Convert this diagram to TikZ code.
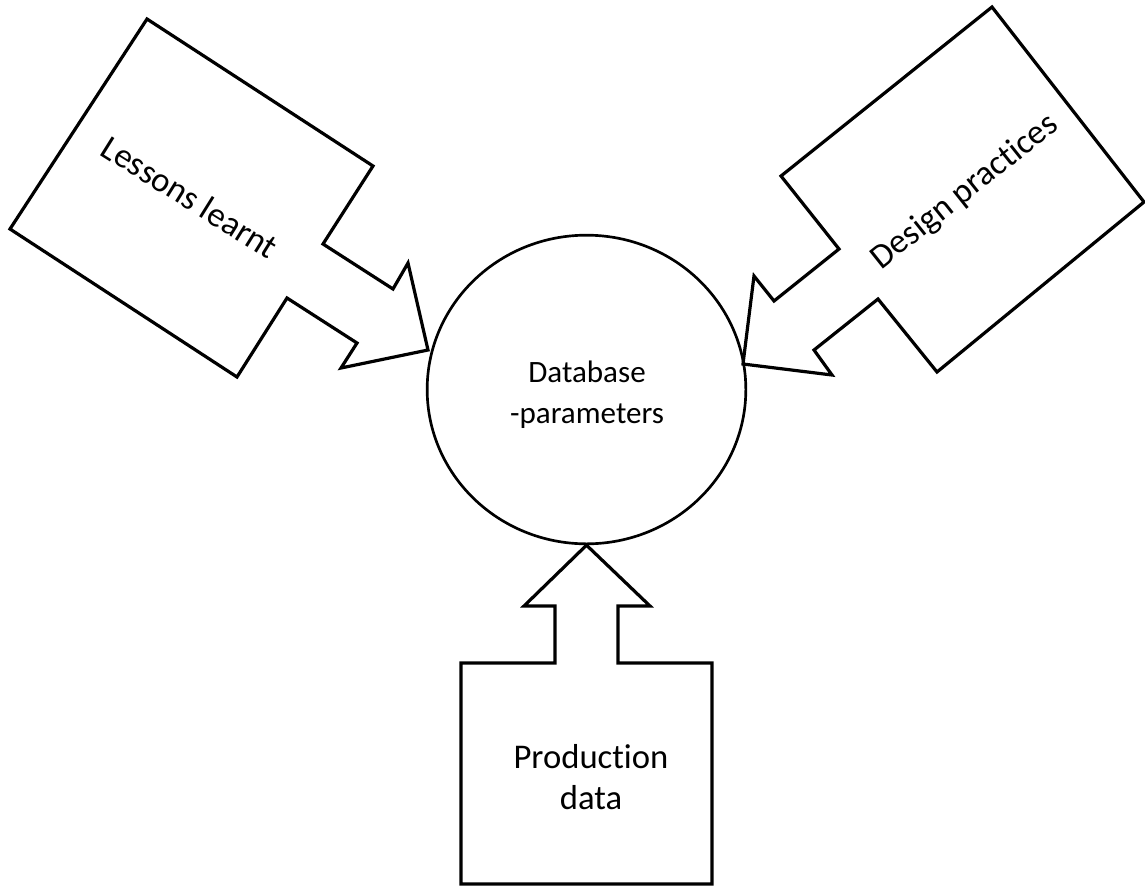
\documentclass[tikz,border=0pt]{standalone}
\usepackage{fontspec}
\setmainfont{Carlito}[Ligatures={NoCommon,NoContextual}]
\usetikzlibrary{shapes.geometric}

\begin{document}
\begin{tikzpicture}[
          x=0.75pt, y=-0.75pt,
          callout/.style={draw, line width=2.4pt, line join=miter, fill=white},
          lbl/.style={font=\fontsize{26}{31}\selectfont, align=center},
          dblbl/.style={font=\fontsize{23.3}{30.8}\selectfont, align=center}
      ]
        \useasboundingbox (0,0) rectangle (1145,886);
        % the database in the middle
        \node[ellipse, draw, line width=2pt, inner sep=0pt,
              minimum width=239pt, minimum height=231.5pt] (db) at (586.5,389.5) {};
        \node[dblbl] (dbtext) at (587,395) {Database\\-parameters};
        % lessons learnt, upper left
        \draw[callout] (147,19) -- (373,166) -- (323,244) -- (393,289) -- (408,263)
          -- (428,350) -- (341,368) -- (357,343) -- (287,298) -- (237,377) -- (10,229) -- cycle;
        \node[lbl, rotate=-32] (lessons) at (190,197) {Lessons learnt};
        % design practices, upper right
        \draw[callout] (992,7) -- (1144,202) -- (937,372) -- (878,299) -- (814,350)
          -- (832,375) -- (743,364) -- (754,276) -- (774,301) -- (839,249) -- (781,176) -- cycle;
        \node[lbl, rotate=38.5] (design) at (965,192) {Design practices};
        % production data, below
        \draw[callout] (461,663) -- (555,663) -- (555,606) -- (524,606) -- (db.south)
          -- (650,606) -- (618,606) -- (618,663) -- (712,663) -- (712,884) -- (461,884) -- cycle;
        \node[lbl] (production) at (591,777) {Production\\data};
      \end{tikzpicture}
\end{document}
